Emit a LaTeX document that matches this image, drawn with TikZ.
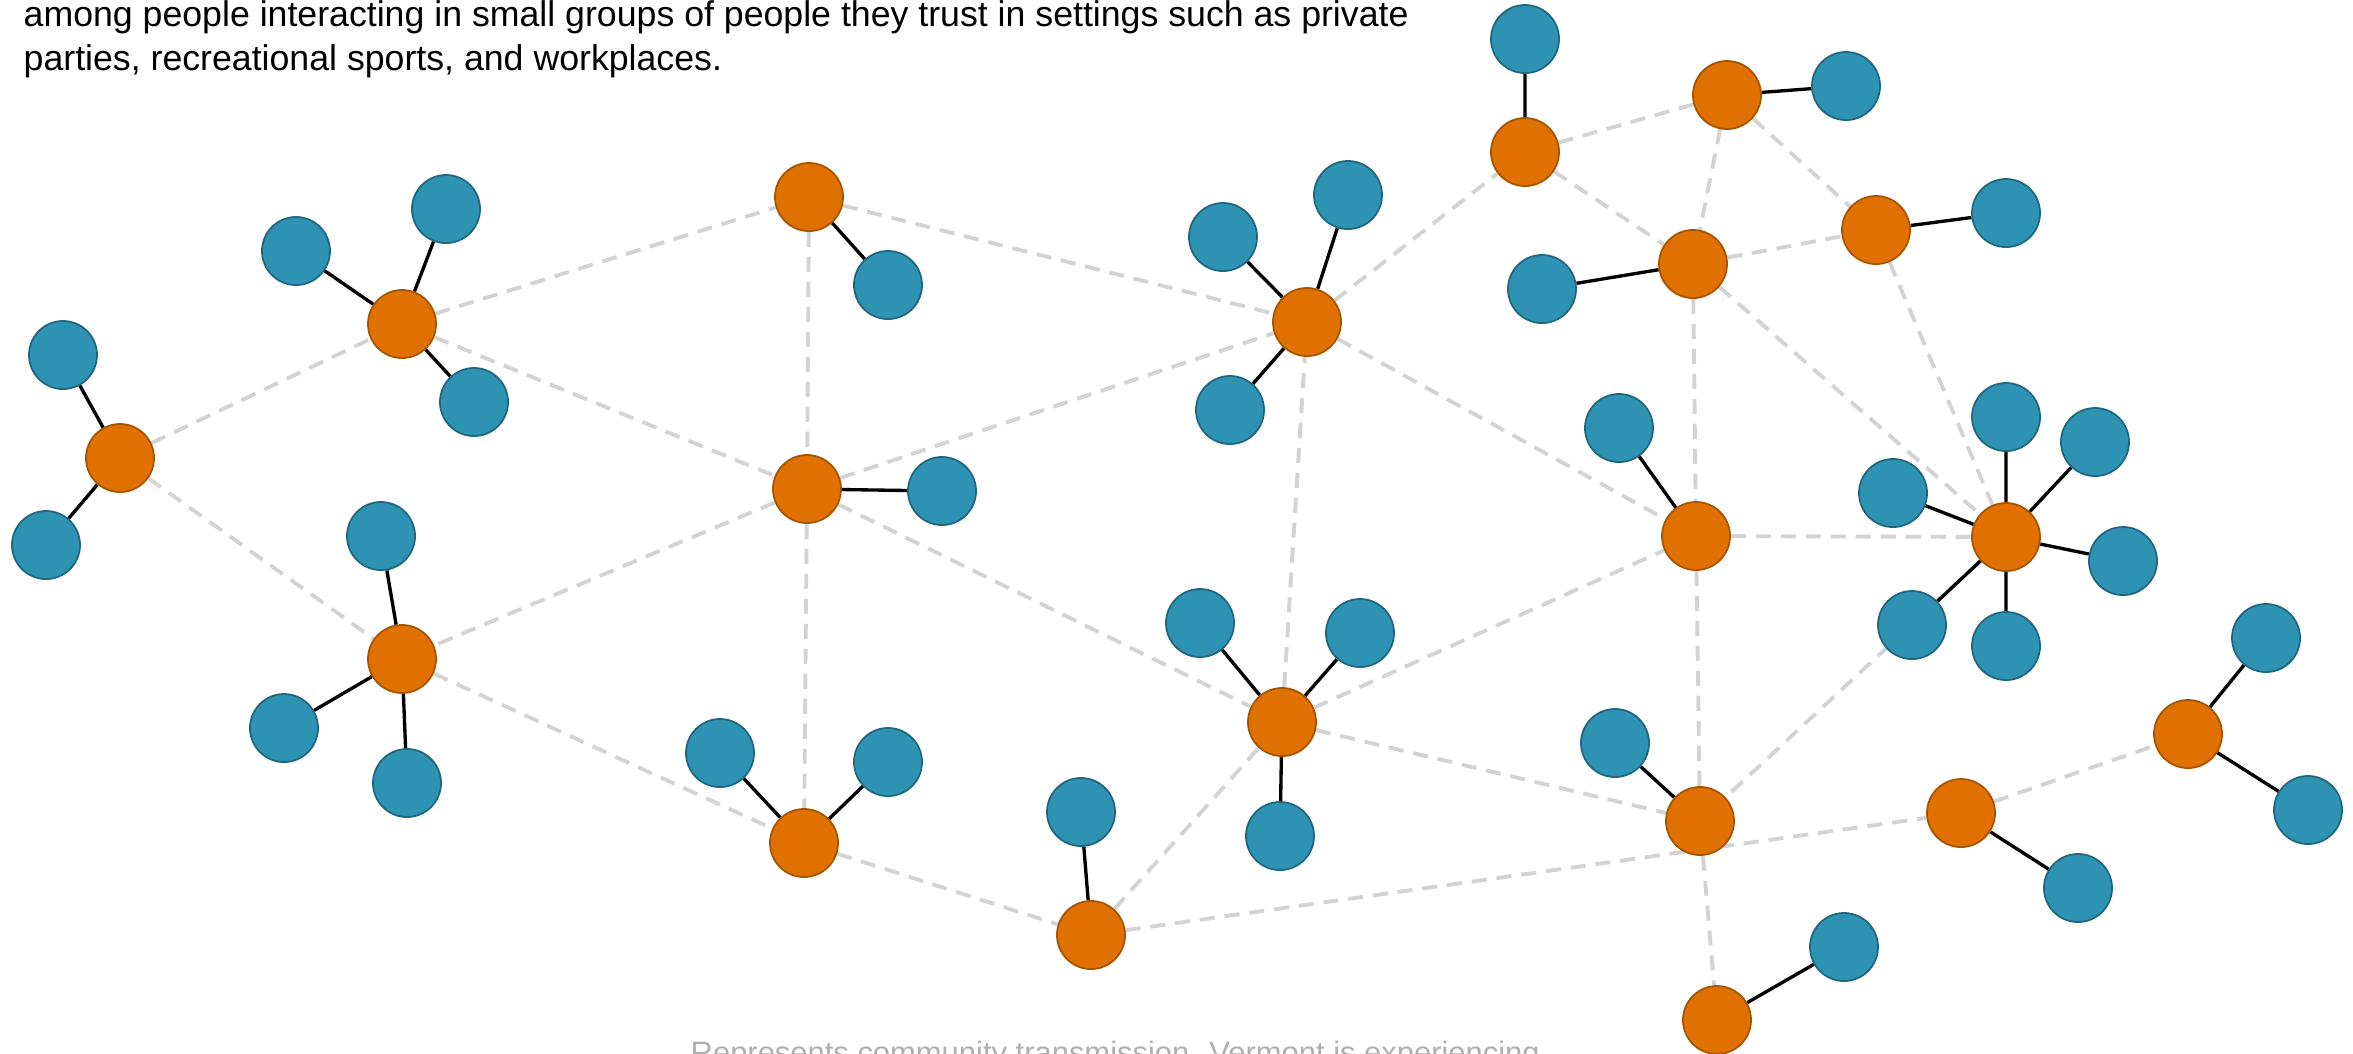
\documentclass[tikz,border=0pt]{standalone}
\usepackage{fontspec}
\setmainfont{Liberation Sans}
\usepackage{xcolor}
\usetikzlibrary{backgrounds}
\definecolor{hub}{RGB}{224,112,0}
\definecolor{hubline}{RGB}{166,84,0}
\definecolor{pers}{RGB}{46,147,179}
\definecolor{persline}{RGB}{31,102,128}
\definecolor{link}{RGB}{211,211,211}
\definecolor{note}{RGB}{175,175,175}
\begin{document}
\begin{tikzpicture}[x=0.01cm,y=-0.01cm,font=\fontsize{10.15}{12}\selectfont,
 o/.style={circle,draw=hubline,line width=0.5pt,fill=hub,minimum size=0.68cm,inner sep=0pt},
 p/.style={circle,draw=persline,line width=0.5pt,fill=pers,minimum size=0.68cm,inner sep=0pt},
 tie/.style={line width=0.95pt,black},
 lnk/.style={line width=1.1pt,link,dash pattern=on 4.3pt off 2.8pt},
 txt/.style={anchor=base west,inner sep=0pt}]
 \useasboundingbox (0,0) rectangle (2353,1053);
 \node[txt](intro1) at (23,26){among people interacting in small groups of people they trust in settings such as private};
 \node[txt](intro2) at (23,70){parties, recreational sports, and workplaces.};
 \node[txt,text=note,font=\fontsize{8.8}{10}\selectfont](remark) at (690,1063){Represents community transmission. Vermont is experiencing};
 \node[o](h1) at (120,458){};
 \node[o](h2) at (402,324){};
 \node[o](h3) at (809,197){};
 \node[o](h4) at (807,489){};
 \node[o](h5) at (402,659){};
 \node[o](h6) at (804,843){};
 \node[o](h7) at (1091,935){};
 \node[o](h8) at (1282,722){};
 \node[o](h9) at (1307,322){};
 \node[o](h10) at (1525,152){};
 \node[o](h11) at (1727,95){};
 \node[o](h12) at (1693,264){};
 \node[o](h13) at (1876,230){};
 \node[o](h14) at (1696,536){};
 \node[o](h15) at (2006,537){};
 \node[o](h16) at (1700,821){};
 \node[o](h17) at (1961,813){};
 \node[o](h18) at (2188,734){};
 \node[o](h19) at (1717,1020){};
 \node[p](h1a) at (63,355){};
 \node[p](h1b) at (46,545){};
 \node[p](h2a) at (296,251){};
 \node[p](h2b) at (446,209){};
 \node[p](h2c) at (474,402){};
 \node[p](h3a) at (888,285){};
 \node[p](h4a) at (942,491){};
 \node[p](h5a) at (381,536){};
 \node[p](h5b) at (284,728){};
 \node[p](h5c) at (407,783){};
 \node[p](h6a) at (720,753){};
 \node[p](h6b) at (888,762){};
 \node[p](h7a) at (1081,812){};
 \node[p](h8a) at (1200,623){};
 \node[p](h8b) at (1360,633){};
 \node[p](h8c) at (1280,836){};
 \node[p](h9a) at (1223,237){};
 \node[p](h9b) at (1348,195){};
 \node[p](h9c) at (1230,410){};
 \node[p](h10a) at (1525,39){};
 \node[p](h11a) at (1846,86){};
 \node[p](h12a) at (1542,289){};
 \node[p](h13a) at (2006,213){};
 \node[p](h14a) at (1619,428){};
 \node[p](h15a) at (2006,417){};
 \node[p](h15b) at (2095,442){};
 \node[p](h15c) at (1893,493){};
 \node[p](h15d) at (2123,561){};
 \node[p](h15e) at (1912,625){};
 \node[p](h15f) at (2006,646){};
 \node[p](h16a) at (1615,743){};
 \node[p](h17a) at (2078,888){};
 \node[p](h18a) at (2266,638){};
 \node[p](h18b) at (2308,810){};
 \node[p](h19a) at (1844,947){};
 \begin{pgfonlayer}{background}
 \draw[lnk](h1)--(h2) (h1)--(h5) (h2)--(h3) (h2)--(h4) (h3)--(h4) (h3)--(h9) (h4)--(h5) (h4)--(h9);
 \draw[lnk](h4)--(h8) (h4)--(h6) (h5)--(h6) (h6)--(h7) (h7)--(h8) (h7)--(h17) (h8)--(h9) (h8)--(h14);
 \draw[lnk](h8)--(h16) (h9)--(h10) (h9)--(h14) (h10)--(h11) (h10)--(h12) (h11)--(h12) (h11)--(h13);
 \draw[lnk](h12)--(h13) (h12)--(h14) (h12)--(h15) (h13)--(h15) (h14)--(h15) (h14)--(h16) (h15)--(h16);
 \draw[lnk](h16)--(h19) (h17)--(h18);
 \draw[tie](h1)--(h1a) (h1)--(h1b) (h2)--(h2a) (h2)--(h2b) (h2)--(h2c) (h3)--(h3a) (h4)--(h4a);
 \draw[tie](h5)--(h5a) (h5)--(h5b) (h5)--(h5c) (h6)--(h6a) (h6)--(h6b) (h7)--(h7a);
 \draw[tie](h8)--(h8a) (h8)--(h8b) (h8)--(h8c) (h9)--(h9a) (h9)--(h9b) (h9)--(h9c);
 \draw[tie](h10)--(h10a) (h11)--(h11a) (h12)--(h12a) (h13)--(h13a) (h14)--(h14a) (h16)--(h16a);
 \draw[tie](h15)--(h15a) (h15)--(h15b) (h15)--(h15c) (h15)--(h15d) (h15)--(h15e) (h15)--(h15f);
 \draw[tie](h17)--(h17a) (h18)--(h18a) (h18)--(h18b) (h19)--(h19a);
 \end{pgfonlayer}
\end{tikzpicture}
\end{document}
